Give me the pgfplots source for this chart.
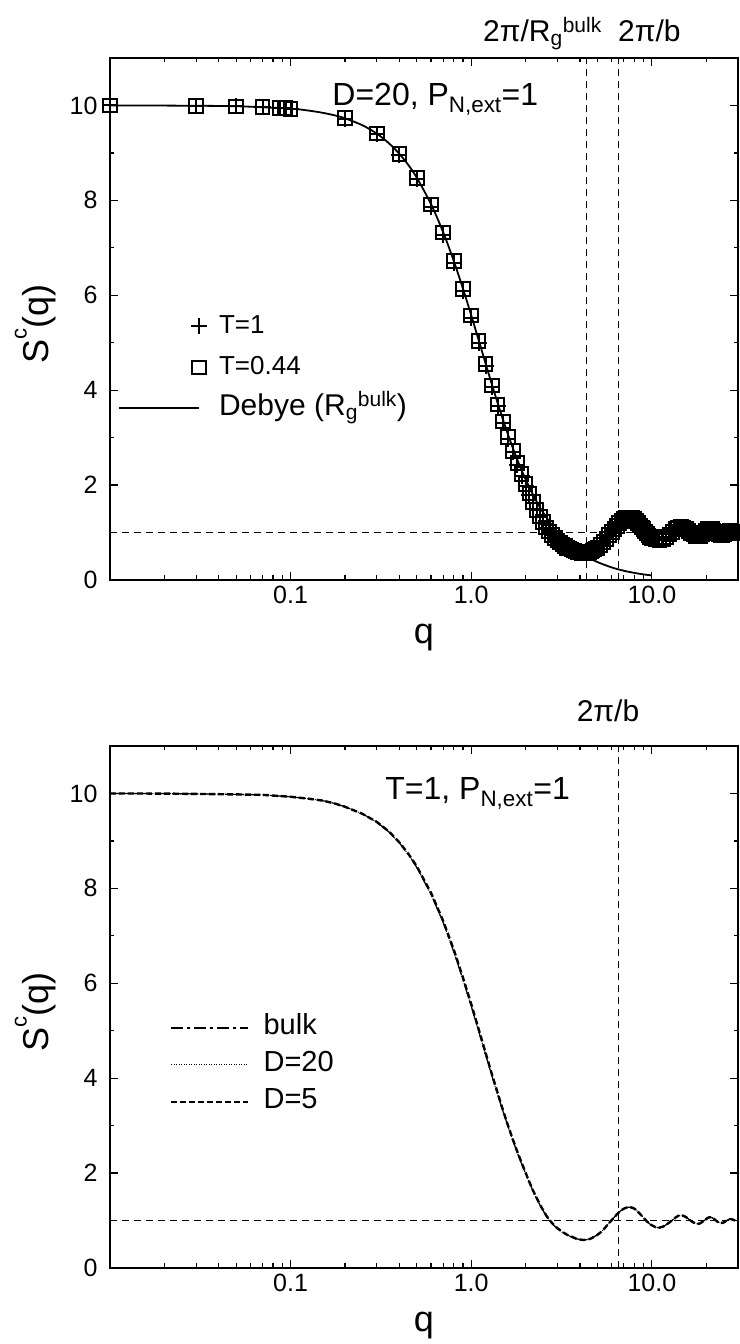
\documentclass[border=0pt]{standalone}
\usepackage{fontspec}
\setmainfont{Liberation Sans}
\usepackage{pgfplots}
\pgfplotsset{compat=1.18}
\usepackage{pgfplotstable}

% q, S(q) at T=0.44, S(q) at T=1
\pgfplotstableread{
q s044 s1
0.01 10.00 10.00
0.03 9.99 9.99
0.05 9.98 9.98
0.07 9.97 9.97
0.087 9.95 9.95
0.093 9.94 9.94
0.1 9.93 9.93
0.2 9.73 9.72
0.3 9.41 9.40
0.4 8.98 8.96
0.5 8.47 8.44
0.6 7.91 7.87
0.7 7.32 7.28
0.8 6.72 6.67
0.9 6.13 6.08
1.0 5.57 5.52
1.1 5.04 4.99
1.2 4.55 4.50
1.3 4.10 4.06
1.4 3.70 3.66
1.5 3.34 3.30
1.6 3.01 2.98
1.7 2.72 2.69
1.8 2.46 2.43
1.9 2.23 2.20
2.0 2.02 1.99
2.1 1.82 1.80
2.2 1.64 1.62
2.3 1.48 1.47
2.4 1.34 1.33
2.5 1.22 1.21
2.6 1.11 1.10
2.7 1.02 1.01
2.8 0.95 0.94
2.9 0.89 0.88
3.0 0.83 0.84
3.1 0.79 0.80
3.2 0.75 0.76
3.3 0.71 0.73
3.4 0.68 0.70
3.5 0.66 0.68
3.6 0.64 0.66
3.7 0.62 0.64
3.8 0.60 0.62
3.9 0.59 0.61
4.0 0.58 0.60
4.1 0.57 0.59
4.2 0.57 0.59
4.3 0.57 0.59
4.4 0.58 0.60
4.5 0.59 0.61
4.6 0.60 0.62
4.7 0.62 0.64
4.8 0.64 0.66
4.9 0.66 0.68
5.0 0.68 0.70
5.2 0.74 0.75
5.4 0.80 0.81
5.6 0.87 0.88
5.8 0.95 0.95
6.0 1.01 1.01
6.2 1.08 1.07
6.4 1.14 1.13
6.6 1.20 1.18
6.8 1.24 1.22
7.0 1.28 1.25
7.2 1.30 1.27
7.4 1.31 1.28
7.6 1.31 1.28
7.8 1.30 1.27
8.0 1.28 1.25
8.2 1.24 1.22
8.4 1.20 1.18
8.6 1.15 1.14
8.8 1.11 1.10
9.0 1.07 1.06
9.2 1.02 1.02
9.4 0.98 0.98
9.6 0.94 0.95
9.8 0.91 0.92
10.0 0.89 0.90
10.5 0.85 0.86
11.0 0.83 0.85
11.5 0.86 0.87
12.0 0.90 0.91
12.5 0.96 0.96
13.0 1.01 1.01
13.5 1.07 1.06
14.0 1.11 1.10
14.5 1.12 1.11
15.0 1.11 1.10
15.5 1.08 1.07
16.0 1.03 1.03
16.5 0.99 0.99
17.0 0.96 0.96
17.5 0.93 0.94
18.0 0.92 0.93
18.5 0.93 0.94
19.0 0.97 0.97
19.5 1.00 1.00
20.0 1.03 1.03
20.5 1.07 1.06
21.0 1.08 1.07
21.5 1.07 1.06
22.0 1.04 1.04
22.5 1.01 1.01
23.0 0.98 0.98
23.5 0.96 0.96
24.0 0.94 0.95
24.5 0.94 0.95
25.0 0.96 0.96
25.5 0.98 0.98
26.0 1.00 1.00
26.5 1.02 1.02
27.0 1.03 1.03
27.5 1.03 1.03
28.0 1.02 1.02
28.5 1.01 1.01
29.0 1.00 1.00
29.5 0.99 0.99
30.0 0.99 0.99
}\datatab

% Debye function, bulk radius of gyration
\pgfplotstableread{
q s
0.01 10.00
0.02 9.997
0.05 9.983
0.1 9.931
0.125 9.893
0.15 9.846
0.175 9.792
0.2 9.729
0.25 9.582
0.3 9.406
0.35 9.204
0.4 8.980
0.45 8.738
0.5 8.475
0.6 7.915
0.7 7.324
0.8 6.727
0.9 6.140
1.0 5.579
1.1 5.053
1.2 4.568
1.3 4.128
1.4 3.731
1.5 3.377
1.6 3.061
1.7 2.782
1.8 2.534
1.9 2.315
2.0 2.121
2.2 1.794
2.4 1.534
2.6 1.325
2.8 1.155
3.0 1.014
3.5 0.756
4.0 0.585
4.5 0.465
5.0 0.378
6.0 0.264
7.0 0.195
8.0 0.150
9.0 0.118
10.0 0.096
}\debyetab

% T=1: bulk, D=20, D=5
\pgfplotstableread{
q bulk d20 d5
0.01 10.00 10.00 10.00
0.02 9.997 9.997 9.997
0.03 9.99 9.99 9.99
0.05 9.98 9.98 9.98
0.07 9.97 9.97 9.97
0.1 9.93 9.93 9.93
0.125 9.89 9.89 9.89
0.15 9.85 9.85 9.85
0.175 9.79 9.79 9.79
0.2 9.72 9.72 9.72
0.25 9.57 9.57 9.57
0.3 9.40 9.40 9.40
0.35 9.19 9.19 9.20
0.4 8.96 8.96 8.97
0.45 8.71 8.71 8.72
0.5 8.44 8.44 8.46
0.6 7.87 7.87 7.90
0.7 7.28 7.28 7.31
0.8 6.67 6.67 6.71
0.9 6.08 6.08 6.12
1.0 5.52 5.52 5.56
1.1 4.99 4.99 5.03
1.2 4.50 4.50 4.54
1.3 4.06 4.06 4.09
1.4 3.66 3.66 3.69
1.5 3.30 3.30 3.32
1.6 2.98 2.98 3.00
1.7 2.69 2.69 2.71
1.8 2.43 2.43 2.45
1.9 2.20 2.20 2.22
2.0 1.99 1.99 2.01
2.1 1.80 1.80 1.81
2.2 1.62 1.62 1.63
2.3 1.47 1.47 1.48
2.4 1.33 1.33 1.34
2.5 1.21 1.21 1.22
2.6 1.10 1.10 1.11
2.7 1.01 1.01 1.02
2.8 0.94 0.94 0.95
2.9 0.88 0.88 0.89
3.0 0.83 0.83 0.84
3.2 0.75 0.75 0.76
3.4 0.70 0.70 0.70
3.6 0.65 0.65 0.66
3.8 0.62 0.62 0.62
4.0 0.60 0.60 0.60
4.2 0.59 0.59 0.59
4.4 0.60 0.60 0.60
4.6 0.62 0.62 0.62
4.8 0.66 0.66 0.66
5.0 0.70 0.70 0.70
5.2 0.75 0.75 0.75
5.4 0.81 0.81 0.81
5.6 0.88 0.88 0.88
5.8 0.95 0.95 0.95
6.0 1.01 1.01 1.01
6.2 1.07 1.07 1.07
6.4 1.13 1.13 1.13
6.6 1.18 1.18 1.18
6.8 1.22 1.22 1.22
7.0 1.25 1.25 1.25
7.2 1.27 1.27 1.27
7.4 1.28 1.28 1.28
7.6 1.28 1.28 1.28
7.8 1.27 1.27 1.27
8.0 1.25 1.25 1.25
8.2 1.22 1.22 1.22
8.4 1.18 1.18 1.18
8.6 1.14 1.14 1.14
8.8 1.10 1.10 1.10
9.0 1.06 1.06 1.06
9.2 1.02 1.02 1.02
9.4 0.98 0.98 0.98
9.6 0.95 0.95 0.95
9.8 0.92 0.92 0.92
10.0 0.90 0.90 0.90
10.5 0.86 0.86 0.86
11.0 0.85 0.85 0.85
11.5 0.87 0.87 0.87
12.0 0.91 0.91 0.91
12.5 0.96 0.96 0.96
13.0 1.01 1.01 1.01
13.5 1.06 1.06 1.06
14.0 1.10 1.10 1.10
14.5 1.11 1.11 1.11
15.0 1.10 1.10 1.10
15.5 1.07 1.07 1.07
16.0 1.03 1.03 1.03
16.5 0.99 0.99 0.99
17.0 0.96 0.96 0.96
17.5 0.94 0.94 0.94
18.0 0.93 0.93 0.93
18.5 0.94 0.94 0.94
19.0 0.97 0.97 0.97
19.5 1.00 1.00 1.00
20.0 1.03 1.03 1.03
20.5 1.06 1.06 1.06
21.0 1.07 1.07 1.07
21.5 1.06 1.06 1.06
22.0 1.04 1.04 1.04
22.5 1.01 1.01 1.01
23.0 0.98 0.98 0.98
23.5 0.96 0.96 0.96
24.0 0.95 0.95 0.95
24.5 0.95 0.95 0.95
25.0 0.96 0.96 0.96
25.5 0.98 0.98 0.98
26.0 1.00 1.00 1.00
26.5 1.02 1.02 1.02
27.0 1.03 1.03 1.03
27.5 1.03 1.03 1.03
28.0 1.02 1.02 1.02
28.5 1.01 1.01 1.01
29.0 1.00 1.00 1.00
29.5 0.99 0.99 0.99
30.0 0.99 0.99 0.99
}\bottomtab

\pgfplotsset{
  legmark/.style={legend image code/.code={\draw[##1] plot coordinates {(#1,0pt)};}},
  legline/.style={legend image code/.code={\draw[##1] (0pt,0pt) -- (#1,0pt);}},
}
\tikzset{refline/.style={black, line width=0.8pt, dash pattern=on 7pt off 5pt}}
\newcommand{\ylab}{S\raisebox{0.6em}{\fontsize{22}{22}\selectfont c}(q)}

\begin{document}
\begin{tikzpicture}
\useasboundingbox (0pt,0pt) rectangle (739pt,1344pt);

% ---------------- top panel ----------------
\begin{axis}[at={(110pt,764pt)}, anchor=south west,
    xmode=log, xmin=0.01, xmax=30, ymin=0, ymax=11,
    scale only axis, width=628pt, height=522pt,
    clip=false,
    axis line style={line width=2.8pt},
    tick align=inside,
    major tick length=8pt, minor tick length=4.5pt,
    tick style={black, line width=1.3pt},
    xtick={0.1,1,10}, xticklabels={0.1,1.0,10.0},
    minor xtick={0.02,0.03,0.04,0.05,0.06,0.07,0.08,0.09,0.2,0.3,0.4,0.5,0.6,0.7,0.8,0.9,2,3,4,5,6,7,8,9,20},
    ytick={0,2,4,6,8,10}, yticklabels={0,2,4,6,8,10},
    minor ytick={1,3,5,7,9},
    tick label style={font=\fontsize{25}{25}\selectfont},
    xticklabel style={yshift=-3pt},
    yticklabel style={xshift=-9pt},
    xlabel={q}, ylabel={\ylab},
    label style={font=\fontsize{36}{36}\selectfont},
    xlabel style={at={(axis description cs:0.5,-0.11)}, anchor=center},
    ylabel style={at={(axis description cs:-0.119,0.49)}, anchor=center},
    legend cell align=left,
    legend style={draw=none, fill=none, at={(axis description cs:0.0127,0.515)},
      anchor=north west, inner sep=0pt, row sep=11pt, column sep=12pt,
      font=\fontsize{26}{26}\selectfont,
      nodes={inner sep=0pt, text height=22pt, text depth=8pt}},
]
\addplot[refline, forget plot] coordinates {(0.01,1) (30,1)};
\addplot[refline, forget plot] coordinates {(4.36,0) (4.36,11)};
\addplot[refline, forget plot] coordinates {(6.55,0) (6.55,11)};

\addplot[black, only marks, mark=+, mark size=8pt, mark options={line width=2pt}, legmark=80pt]
  table[x=q, y=s1] {\datatab};
\addlegendentry{T=1}
\addplot[black, only marks, mark=square, mark size=6.8pt, mark options={line width=2pt}, legmark=80pt]
  table[x=q, y=s044] {\datatab};
\addlegendentry{T=0.44}
\addplot[black, line width=1.8pt, smooth, legline=80pt]
  table[x=q, y=s] {\debyetab};
\addlegendentry{\fontsize{30}{30}\selectfont Debye (R\textsubscript{g}\textsuperscript{bulk})}

\node[anchor=base west, inner sep=0pt, font=\fontsize{32}{32}\selectfont]
  at (axis cs:0.17,10.0) {D=20, P\textsubscript{N,ext}=1};
\node[anchor=base east, inner sep=0pt, font=\fontsize{30}{30}\selectfont]
  at (axis cs:5.3,11.34) {2π/R\textsubscript{g}\textsuperscript{bulk}};
\node[anchor=base west, inner sep=0pt, font=\fontsize{30}{30}\selectfont]
  at (axis cs:6.5,11.34) {2π/b};
\end{axis}

% ---------------- bottom panel ----------------
\begin{axis}[at={(110pt,76pt)}, anchor=south west,
    xmode=log, xmin=0.01, xmax=30, ymin=0, ymax=11,
    scale only axis, width=628pt, height=522pt,
    clip=false,
    axis line style={line width=2.8pt},
    tick align=inside,
    major tick length=8pt, minor tick length=4.5pt,
    tick style={black, line width=1.3pt},
    xtick={0.1,1,10}, xticklabels={0.1,1.0,10.0},
    minor xtick={0.02,0.03,0.04,0.05,0.06,0.07,0.08,0.09,0.2,0.3,0.4,0.5,0.6,0.7,0.8,0.9,2,3,4,5,6,7,8,9,20},
    ytick={0,2,4,6,8,10}, yticklabels={0,2,4,6,8,10},
    minor ytick={1,3,5,7,9},
    tick label style={font=\fontsize{25}{25}\selectfont},
    xticklabel style={yshift=-3pt},
    yticklabel style={xshift=-9pt},
    xlabel={q}, ylabel={\ylab},
    label style={font=\fontsize{36}{36}\selectfont},
    xlabel style={at={(axis description cs:0.5,-0.11)}, anchor=center},
    ylabel style={at={(axis description cs:-0.119,0.49)}, anchor=center},
    legend cell align=left,
    legend style={draw=none, fill=none, at={(axis description cs:0.0955,0.489)},
      anchor=north west, inner sep=0pt, row sep=7pt, column sep=14pt,
      font=\fontsize{29}{29}\selectfont,
      nodes={inner sep=0pt, text height=22pt, text depth=8pt}},
]
\addplot[refline, forget plot] coordinates {(0.01,1) (30,1)};
\addplot[refline, forget plot] coordinates {(6.55,0) (6.55,11)};

\addplot[black, line width=1.2pt, dash pattern=on 12pt off 4pt on 3pt off 4pt, legline=77pt]
  table[x=q, y=bulk] {\bottomtab};
\addlegendentry{bulk}
\addplot[black, line width=1.0pt, dash pattern=on 1pt off 1.5pt, legline=77pt]
  table[x=q, y=d20] {\bottomtab};
\addlegendentry{D=20}
\addplot[black, line width=2.4pt, dash pattern=on 6pt off 3pt, legline=77pt]
  table[x=q, y=d5] {\bottomtab};
\addlegendentry{D=5}

\node[anchor=base west, inner sep=0pt, font=\fontsize{32}{32}\selectfont]
  at (axis cs:0.334,9.87) {T=1, P\textsubscript{N,ext}=1};
\node[anchor=base, inner sep=0pt, font=\fontsize{30}{30}\selectfont]
  at (axis cs:5.72,11.52) {2π/b};
\end{axis}
\end{tikzpicture}
\end{document}
